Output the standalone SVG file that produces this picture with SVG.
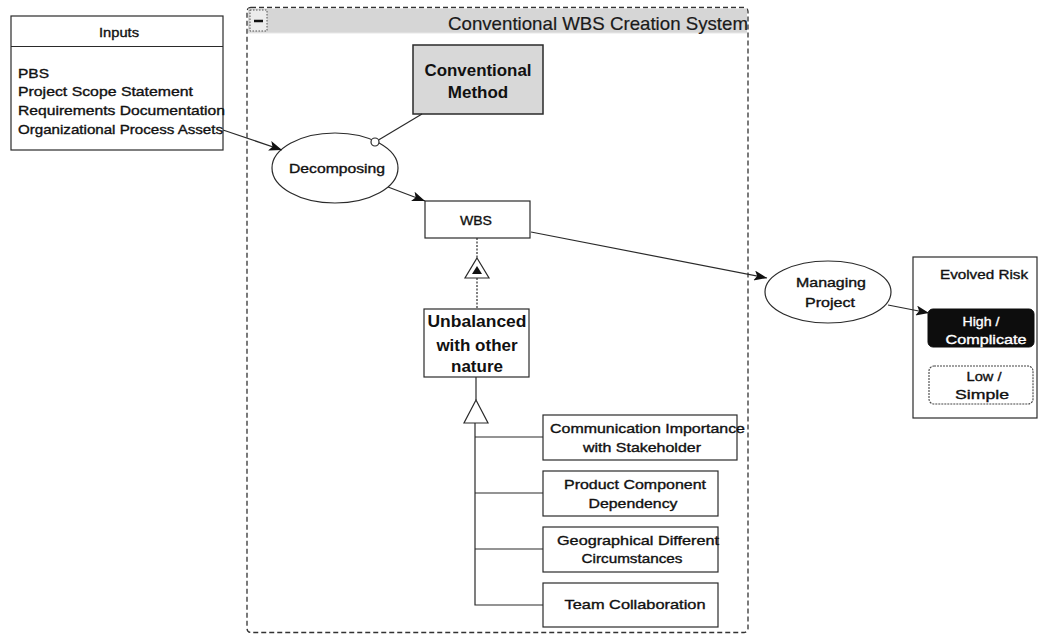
<svg xmlns="http://www.w3.org/2000/svg" width="1043" height="635" viewBox="0 0 1043 635">
  <style>
    .box { fill: #ffffff; stroke: #2a2a2a; stroke-width: 1.2; }
    .line { fill: none; stroke: #2a2a2a; stroke-width: 1.2; }
    .t { font-family: "Liberation Sans", Arial, sans-serif; font-size: 13px; fill: #111111; stroke: #111111; stroke-width: 0.35; }
    .tc { text-anchor: middle; }
    .inv { fill: #ffffff; stroke: #ffffff; }
    .big { font-family: "Liberation Sans", Arial, sans-serif; font-size: 17px; font-weight: bold; fill: #111111; text-anchor: middle; }
    .title { font-family: "Liberation Sans", Arial, sans-serif; font-size: 19px; fill: #1a1a1a; stroke: #1a1a1a; stroke-width: 0.2; }
  </style>
  <defs>
    <marker id="arrow" markerUnits="userSpaceOnUse" markerWidth="14" markerHeight="10" refX="13" refY="5" orient="auto">
      <path d="M0,0 L13,5 L0,10 L3,5 Z" fill="#111111"/>
    </marker>
  </defs>

  <!-- container: Conventional WBS Creation System -->
  <g id="container">
    <rect x="247" y="7.5" width="501" height="625" rx="4" fill="#ffffff" stroke="#333333" stroke-width="1.3" stroke-dasharray="5,3"/>
    <rect x="248" y="8.5" width="499" height="24.5" fill="#d6d6d6"/>
    <line x1="248" y1="33" x2="747" y2="33" stroke="#e8e8e8" stroke-width="1"/>
    <rect x="250" y="10" width="17" height="21" fill="#ececec" stroke="#555555" stroke-width="1" stroke-dasharray="1.5,1.5"/>
    <line x1="254" y1="21" x2="263" y2="21" stroke="#111111" stroke-width="2.5"/>
    <text class="title" x="448" y="30" textLength="300" lengthAdjust="spacingAndGlyphs">Conventional WBS Creation System</text>
  </g>

  <g id="inputs">
    <rect class="box" x="11" y="16" width="212" height="134"/>
    <line class="line" x1="11" y1="46.5" x2="223" y2="46.5"/>
    <text class="t tc" x="119" y="37" font-size="12" textLength="40" lengthAdjust="spacingAndGlyphs">Inputs</text>
    <text class="t" x="18" y="78" textLength="31" lengthAdjust="spacingAndGlyphs">PBS</text>
    <text class="t" x="18" y="96" textLength="175" lengthAdjust="spacingAndGlyphs">Project Scope Statement</text>
    <text class="t" x="18" y="115" textLength="207" lengthAdjust="spacingAndGlyphs">Requirements Documentation</text>
    <text class="t" x="18" y="134" textLength="205" lengthAdjust="spacingAndGlyphs">Organizational Process Assets</text>
  </g>

  <g id="conventional-method">
    <rect x="413" y="45" width="130" height="69" fill="#d8d8d8" stroke="#2a2a2a" stroke-width="1.5"/>
    <text class="big" x="478" y="76" textLength="107" lengthAdjust="spacingAndGlyphs">Conventional</text>
    <text class="big" x="478" y="98">Method</text>
  </g>

  <g id="decomposing">
    <ellipse class="box" cx="335" cy="168" rx="63" ry="35"/>
    <text class="t tc" x="337" y="173" textLength="96" lengthAdjust="spacingAndGlyphs">Decomposing</text>
  </g>

  <g id="wbs">
    <rect class="box" x="425" y="201" width="105" height="37"/>
    <text class="t tc" x="476" y="225" textLength="32" lengthAdjust="spacingAndGlyphs">WBS</text>
  </g>

  <g id="unbalanced">
    <rect class="box" x="424" y="309" width="105" height="68"/>
    <text class="big" x="477" y="327" textLength="99" lengthAdjust="spacingAndGlyphs">Unbalanced</text>
    <text class="big" x="477" y="351">with other</text>
    <text class="big" x="477" y="372">nature</text>
  </g>

  <g id="communication">
    <rect class="box" x="543" y="415" width="194" height="45"/>
    <text class="t" x="550" y="433" textLength="195" lengthAdjust="spacingAndGlyphs">Communication Importance</text>
    <text class="t tc" x="642" y="452" textLength="118" lengthAdjust="spacingAndGlyphs">with Stakeholder</text>
  </g>

  <g id="product-dependency">
    <rect class="box" x="543" y="471" width="175" height="45"/>
    <text class="t tc" x="635" y="489" textLength="142" lengthAdjust="spacingAndGlyphs">Product Component</text>
    <text class="t tc" x="633" y="508" textLength="89" lengthAdjust="spacingAndGlyphs">Dependency</text>
  </g>

  <g id="geographical">
    <rect class="box" x="543" y="527" width="175" height="45"/>
    <text class="t" x="557" y="545" textLength="162" lengthAdjust="spacingAndGlyphs">Geographical Different</text>
    <text class="t tc" x="632" y="563" textLength="101" lengthAdjust="spacingAndGlyphs">Circumstances</text>
  </g>

  <g id="team-collaboration">
    <rect class="box" x="543" y="583" width="175" height="44"/>
    <text class="t tc" x="635" y="609" textLength="141" lengthAdjust="spacingAndGlyphs">Team Collaboration</text>
  </g>

  <g id="managing-project">
    <ellipse class="box" cx="828" cy="292" rx="63" ry="31"/>
    <text class="t tc" x="831" y="287" textLength="70" lengthAdjust="spacingAndGlyphs">Managing</text>
    <text class="t tc" x="830" y="307" textLength="50" lengthAdjust="spacingAndGlyphs">Project</text>
  </g>

  <g id="evolved-risk">
    <rect class="box" x="913" y="257" width="124" height="161"/>
    <text class="t tc" x="984" y="279" textLength="88" lengthAdjust="spacingAndGlyphs">Evolved Risk</text>
    <rect x="928" y="309" width="106" height="38" rx="5" fill="#0d0d0d" stroke="#0d0d0d" stroke-width="1"/>
    <text class="t tc inv" x="981" y="326" textLength="37" lengthAdjust="spacingAndGlyphs">High /</text>
    <text class="t tc inv" x="986" y="344" textLength="81" lengthAdjust="spacingAndGlyphs">Complicate</text>
    <rect x="929" y="366" width="104" height="38" rx="5" fill="#ffffff" stroke="#444444" stroke-width="1.1" stroke-dasharray="2,1"/>
    <text class="t tc" x="984" y="381" textLength="35" lengthAdjust="spacingAndGlyphs">Low /</text>
    <text class="t tc" x="982" y="399" textLength="54" lengthAdjust="spacingAndGlyphs">Simple</text>
  </g>

  <!-- connectors, drawn over the nodes so their ends stay visible -->
  <g id="connectors">
    <line class="line" x1="223" y1="130" x2="282" y2="150" marker-end="url(#arrow)"/>
    <line class="line" x1="422" y1="114" x2="378.5" y2="140"/>
    <circle cx="375" cy="142" r="4" fill="#ffffff" stroke="#2a2a2a" stroke-width="1.2"/>
    <line class="line" x1="388" y1="187" x2="425" y2="201" marker-end="url(#arrow)"/>
    <line class="line" x1="531" y1="232" x2="767" y2="278" marker-end="url(#arrow)"/>
    <line class="line" x1="888" y1="305" x2="929" y2="313" marker-end="url(#arrow)"/>
    <!-- Unbalanced realises WBS -->
    <line class="line" x1="477" y1="238" x2="477" y2="258" stroke-dasharray="2,1.5"/>
    <line class="line" x1="477" y1="278" x2="477" y2="309" stroke-dasharray="2,1.5"/>
    <path d="M477,258 L489,278 L465,278 Z" fill="#ffffff" stroke="#2a2a2a" stroke-width="1.2"/>
    <path d="M477,266 L482,274 L472,274 Z" fill="#111111"/>
    <!-- factor generalisation tree -->
    <line class="line" x1="476" y1="377" x2="476" y2="400" stroke-width="1.6"/>
    <path d="M476,400 L488,423 L464,423 Z" fill="#ffffff" stroke="#2a2a2a" stroke-width="1.2"/>
    <polyline class="line" points="475,423 475,605 543,605"/>
    <line class="line" x1="475" y1="437" x2="543" y2="437"/>
    <line class="line" x1="475" y1="493" x2="543" y2="493"/>
    <line class="line" x1="475" y1="549" x2="543" y2="549"/>
  </g>
</svg>
